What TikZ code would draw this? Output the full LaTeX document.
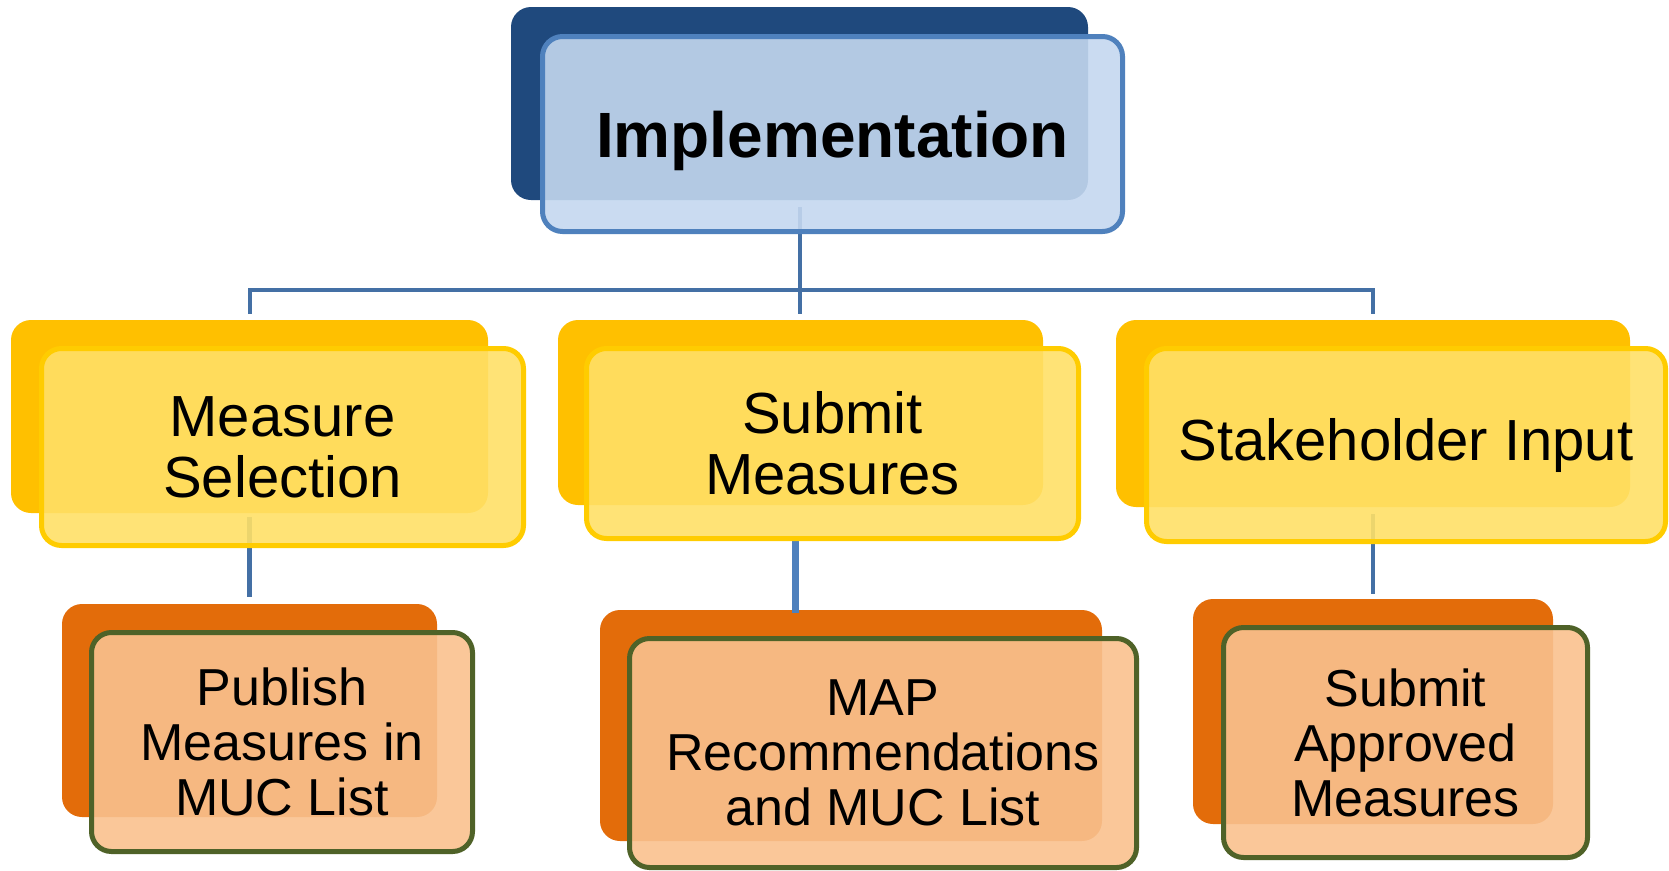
\documentclass[tikz,border=0pt]{standalone}
\usepackage{fontspec}
\setmainfont{Liberation Sans}
\definecolor{impdark}{HTML}{1F497D}
\definecolor{impfill}{RGB}{196,215,239}
\definecolor{impline}{HTML}{4F81BD}
\definecolor{yback}{HTML}{FFC000}
\definecolor{yfill}{RGB}{255,224,103}
\definecolor{yline}{HTML}{FFCC00}
\definecolor{oback}{HTML}{E36C0A}
\definecolor{ofill}{RGB}{249,193,142}
\definecolor{oline}{HTML}{4F6228}
\definecolor{conncol}{HTML}{4470A5}
\tikzset{
  box/.style={rectangle, rounded corners=20pt, inner sep=0pt, outer sep=0pt, align=center},
  backbox/.style={box, fill=#1},
  frontbox/.style={box, draw=#1, line width=5pt, fill opacity=0.9, text opacity=1},
  conn/.style={draw=conncol, line width=4.5pt},
  ytext/.style={font=\fontsize{58}{61}\selectfont},
  otext/.style={font=\fontsize{52}{55}\selectfont}
}
\begin{document}
\begin{tikzpicture}[x=1pt,y=-1pt]
\useasboundingbox (0,0) rectangle (1669,870);
% back boxes
\node[backbox=impdark, minimum width=577pt, minimum height=193pt] (impback) at (799.5,103.5) {};
\node[backbox=yback, minimum width=477pt, minimum height=193pt] (msback) at (249.5,416.5) {};
\node[backbox=yback, minimum width=485pt, minimum height=185pt] (smback) at (800.5,412.5) {};
\node[backbox=yback, minimum width=514pt, minimum height=187pt] (skback) at (1373,413.5) {};
\node[backbox=oback, minimum width=375pt, minimum height=213pt] (pbback) at (249.5,710.5) {};
\node[backbox=oback, minimum width=502pt, minimum height=231pt] (mpback) at (851,725.5) {};
\node[backbox=oback, minimum width=360pt, minimum height=225pt] (apback) at (1373,711.5) {};
% connectors
\coordinate (hub) at (799.5,289.5);
\coordinate (midx) at (795.5,0);
\draw[conn, line width=4pt] ([yshift=-7pt]impback.south) -- ([yshift=6pt]impback.south |- smback.north);
\draw[conn, line width=4pt] ([yshift=6pt]msback.north) |- (hub) -| ([yshift=6pt]skback.north);
\draw[conn] ([yshift=-4pt]msback.south) -- ([yshift=7pt]pbback.north);
\draw[conn, draw=impline, line width=7pt] (midx |- smback.south) ++(0,33) -- ([yshift=-3pt]midx |- mpback.north);
\draw[conn] ([yshift=-7pt]skback.south) -- ([yshift=5pt]apback.north);
% front boxes
\node[frontbox=impline, fill=impfill, minimum width=580pt, minimum height=195pt,
      font=\fontsize{64}{70}\selectfont\bfseries, text depth=0pt] (impfront) at (832.5,134) {Implementation};
\node[frontbox=yline, fill=yfill, minimum width=482pt, minimum height=197pt, ytext] (msfront) at (282.5,447) {Measure\\Selection};
\node[frontbox=yline, fill=yfill, minimum width=492pt, minimum height=190pt, ytext] (smfront) at (832.5,443.5) {Submit\\Measures};
\node[frontbox=yline, fill=yfill, minimum width=519pt, minimum height=193pt, ytext] (skfront) at (1406,445) {Stakeholder Input};
\node[frontbox=oline, fill=ofill, minimum width=381pt, minimum height=219pt, otext] (pbfront) at (282,742) {Publish\\Measures in\\MUC List};
\node[frontbox=oline, fill=ofill, minimum width=507pt, minimum height=229pt, otext] (mpfront) at (883,753) {MAP\\Recommendations\\and MUC List};
\node[frontbox=oline, fill=ofill, minimum width=364pt, minimum height=230pt, otext] (apfront) at (1405.5,742.5) {Submit\\Approved\\Measures};
\end{tikzpicture}
\end{document}
